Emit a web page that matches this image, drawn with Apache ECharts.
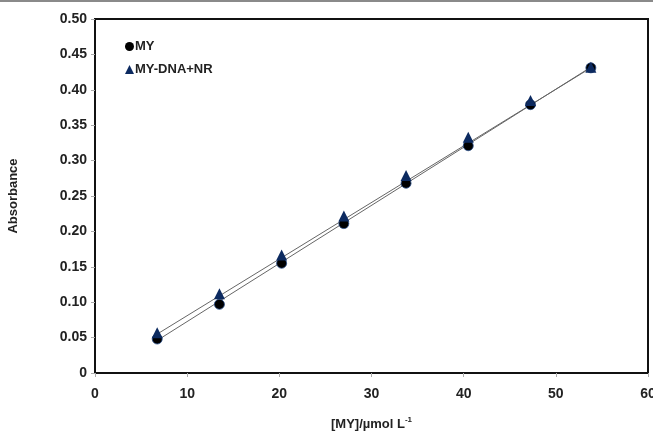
<!DOCTYPE html>
<html lang="en">
<head>
    <meta charset="utf-8">
    <script src="https://cdn.jsdelivr.net/npm/echarts@6/dist/echarts.min.js"></script>
    <style>
        html, body { margin: 0; padding: 0; background: #fff; }
        #chart { width: 653px; height: 435px; }
    </style>
</head>
<body>
    <div id="chart"></div>
    <script type="text/javascript">
        // concentrations of MY
        var conc = [6.75, 13.5, 20.25, 27.0, 33.75, 40.5, 47.25, 53.8];
        var absMY = [0.048, 0.097, 0.155, 0.211, 0.268, 0.321, 0.379, 0.431];
        var absDNA = [0.054, 0.109, 0.164, 0.219, 0.276, 0.330, 0.382, 0.429];
        // trend line ends
        var lineMYx = [6.75, 53.8];
        var lineMYy = [0.046, 0.432];
        var lineDNAx = [6.75, 53.8];
        var lineDNAy = [0.055, 0.431];

        function pairs(xs, ys) {
            var out = [];
            for (var i = 0; i < xs.length; i++) out.push([xs[i], ys[i]]);
            return out;
        }

        var myChart = echarts.init(document.getElementById('chart'));
        var font = 'Liberation Sans, Arial, sans-serif';

        var option = {
            animation: false,
            backgroundColor: '#fff',
            grid: {
                left: 95, right: 5, top: 19, bottom: 62, outerBoundsMode: 'none',
                show: true, borderColor: '#111', borderWidth: 2
            },
            graphic: [
                { type: 'rect', shape: { x: 0, y: 0, width: 653, height: 2 }, style: { fill: '#8a8a8a' } }
            ],
            legend: {
                left: 120, top: 35, orient: 'vertical', itemGap: 10,
                itemWidth: 9, itemHeight: 9,
                textStyle: { fontFamily: font, fontWeight: 'bold', fontSize: 13, color: '#222', padding: [0, 0, 0, -4] },
                data: [
                    { name: 'MY', icon: 'circle', itemStyle: { color: '#000', borderWidth: 0 } },
                    { name: 'MY-DNA+NR', icon: 'triangle', itemStyle: { color: '#0c2a60', borderWidth: 0 } }
                ]
            },
            xAxis: {
                type: 'value', min: 0, max: 60, interval: 10,
                name: '{a|[MY]/µmol L}{s|-1}',
                nameLocation: 'middle', nameGap: 43,
                nameTextStyle: {
                    rich: {
                        a: { fontFamily: font, fontWeight: 'bold', fontSize: 13, color: '#222' },
                        s: { fontFamily: font, fontWeight: 'bold', fontSize: 8, color: '#222', verticalAlign: 'top', padding: [0, 0, 8, 0] }
                    }
                },
                axisLine: { show: true, lineStyle: { color: '#111', width: 2 } },
                axisTick: { show: true, length: 4, lineStyle: { color: '#aaa' } },
                axisLabel: { fontFamily: font, fontWeight: 'bold', fontSize: 14, color: '#222', margin: 14 },
                splitLine: { show: false }
            },
            yAxis: {
                type: 'value', min: 0, max: 0.5, interval: 0.05,
                name: 'Absorbance',
                nameLocation: 'middle', nameGap: 75,
                nameTextStyle: { fontFamily: font, fontWeight: 'bold', fontSize: 13, color: '#222' },
                axisLine: { show: true, lineStyle: { color: '#111', width: 2 } },
                axisTick: { show: true, length: 4, lineStyle: { color: '#aaa' } },
                axisLabel: {
                    fontFamily: font, fontWeight: 'bold', fontSize: 14, color: '#222', margin: 8,
                    formatter: function (v) { return v === 0 ? '0' : v.toFixed(2); }
                },
                splitLine: { show: false }
            },
            series: [
                {
                    name: 'MY-line', type: 'line', data: pairs(lineMYx, lineMYy),
                    symbol: 'none', lineStyle: { color: '#666', width: 1 }, silent: true, z: 1
                },
                {
                    name: 'DNA-line', type: 'line', data: pairs(lineDNAx, lineDNAy),
                    symbol: 'none', lineStyle: { color: '#666', width: 1 }, silent: true, z: 1
                },
                {
                    name: 'MY', type: 'scatter', data: pairs(conc, absMY),
                    symbol: 'circle', symbolSize: 10,
                    itemStyle: { color: '#000', borderColor: '#2a4f8a', borderWidth: 0.8, opacity: 1 }, z: 3
                },
                {
                    name: 'MY-DNA+NR', type: 'scatter', data: pairs(conc, absDNA),
                    symbol: 'triangle', symbolSize: 11, symbolOffset: [0, -2],
                    itemStyle: { color: '#0c2a60', opacity: 1 }, z: 4
                }
            ]
        };

        myChart.setOption(option, true);
    </script>
</body>
</html>
